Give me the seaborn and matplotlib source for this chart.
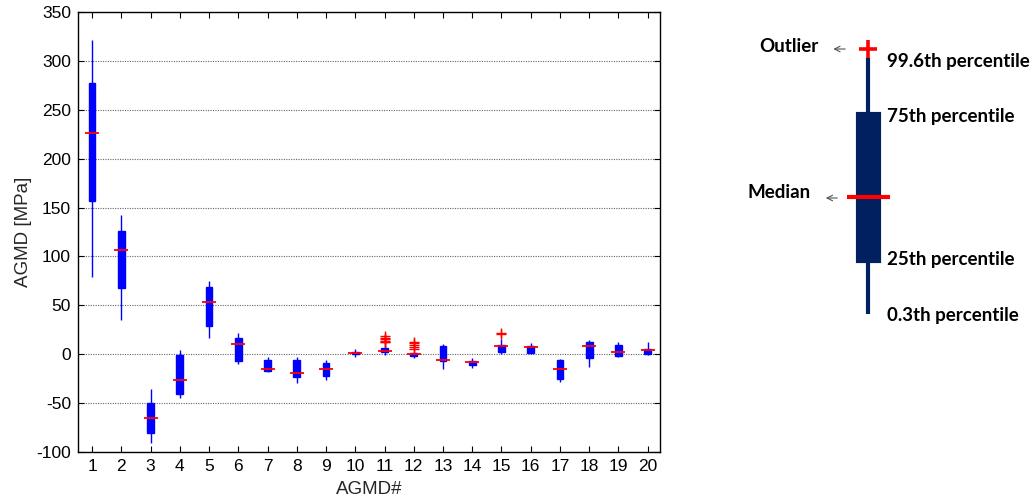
import numpy as np
import pandas as pd
import matplotlib
matplotlib.use("Agg")
import matplotlib.pyplot as plt
import seaborn as sns

# ---- AGMD box statistics (MPa) ----
groups = list(range(1, 21))
whisker_low = [79, 35, -91, -45, 17, -10, -18, -29, -26.5, -3,
               -1, -4.3, -15, -14, 0, 0, -28, -13, -3.3, -0.8]
q1 = [157, 68, -80.5, -41, 29, -7, -17, -23.5, -22, -0.2,
      1.9, -1.9, -6.5, -11, 1.9, 0.8, -25, -4.3, -1.5, 0.2]
median = [226, 107, -65, -26.5, 53, 10.8, -15.2, -19.4, -15.2, 1.2,
          3.8, 0.2, -6, -8.4, 8.4, 7, -15.2, 8.7, 2.6, 4.3]
q3 = [277.6, 126, -50, -1.2, 69, 16.7, -5.7, -5.7, -8.7, 2.6,
      6, 0.8, 8.7, -7, 9.5, 8.7, -6, 12, 9.5, 5.3]
whisker_high = [321, 142.5, -36, 4.3, 74.6, 22, -2.6, -2.6, -6, 5.3,
                9, 2, 10, -4.3, 16, 11, -5, 14.6, 12, 12.9]
outlier_groups = [11, 11, 11, 11, 11, 11, 12, 12, 12, 12, 12, 15, 15]
outlier_values = [19, 17, 15.5, 14, 13, 12, 13, 11, 9, 7, 5.5, 22, 20.5]

y_ticks = [-100, -50, 0, 50, 100, 150, 200, 250, 300, 350]

# Legend schematic: whisker ends, quartiles, median, outlier (drawing units)
legend_stats = [314, 260.7, 197.3, 114, 58.3]
legend_outlier = [49.3]
legend_labels = ["0.3th percentile", "25th percentile", "75th percentile", "99.6th percentile"]

# five-number rows per group so the boxplot reproduces the quartiles exactly
rows = []
for g, lo, a, m, b, hi in zip(groups, whisker_low, q1, median, q3, whisker_high):
    for v in (lo, a, m, b, hi):
        rows.append({"AGMD": g, "value": v})
df = pd.DataFrame(rows)
df_med = pd.DataFrame({"AGMD": groups, "value": median})
df_out = pd.DataFrame({"AGMD": outlier_groups, "value": outlier_values})

sns.set_style("white")
plt.rcParams["font.family"] = ["Liberation Sans", "DejaVu Sans"]
plt.rcParams["axes.unicode_minus"] = False

fig = plt.figure(figsize=(10.35, 5.03), dpi=100)
ax = fig.add_axes([78 / 1035, 51 / 503, 582 / 1035, 440 / 503])

sns.boxplot(data=df, x="AGMD", y="value", native_scale=True, whis=(0, 100),
            width=0.23, color="blue", saturation=1, linecolor="blue",
            linewidth=1, showcaps=False, showfliers=False,
            medianprops=dict(visible=False), ax=ax)
sns.scatterplot(data=df_med, x="AGMD", y="value", marker="_", s=110,
                color="red", linewidth=1.3, zorder=5, ax=ax)
sns.scatterplot(data=df_out, x="AGMD", y="value", marker="+", s=60,
                color="red", linewidth=1, zorder=5, ax=ax)

ax.set_xlim(0.52, 20.42)
ax.set_ylim(-100, 350)
ax.set_xticks(groups)
ax.set_yticks(y_ticks)
ax.yaxis.grid(True, linestyle=(0, (1, 1.2)), color="#666666", linewidth=0.8)
ax.xaxis.grid(False)
ax.set_axisbelow(True)
for s in ax.spines.values():
    s.set_visible(True)
    s.set_color("black")
    s.set_linewidth(1)
ax.tick_params(axis="both", direction="in", length=4, width=0.8,
               labelsize=12.5, top=True, right=True, bottom=True, left=True,
               colors="black", pad=5)
ax.set_xlabel("AGMD#", fontsize=13.5, labelpad=5)
ax.set_ylabel("AGMD [MPa]", fontsize=13.5, labelpad=3)

# ---- legend schematic ----
lax = fig.add_axes([700 / 1035, 0, 335 / 1035, 1])
df_leg = pd.DataFrame({"x": [168] * len(legend_stats), "value": legend_stats})
sns.boxplot(data=df_leg, x="x", y="value", native_scale=True, whis=(0, 100),
            width=21, color="#002060", saturation=1, linecolor="#002060",
            linewidth=3, showcaps=False, showfliers=False,
            medianprops=dict(visible=False), ax=lax)
lax.plot([146.7, 190], [legend_stats[2]] * 2, color="red", linewidth=3,
         solid_capstyle="butt", zorder=5)
lax.scatter([168], legend_outlier, marker="+", s=150, color="red",
            linewidths=2.6, zorder=5)
lax.set_xlim(0, 335)
lax.set_ylim(503, 0)
lax.axis("off")

font_b = dict(family=["Lato", "DejaVu Sans"], fontweight="bold", fontsize=13.5,
              color="black", va="center")
for lbl, y in zip(legend_labels, [315, 259, 116.7, 61.7]):
    lax.text(186.7, y, lbl, ha="left", **font_b)
lax.text(119, 46, "Outlier", ha="right", **font_b)
lax.text(110.7, 193, "Median", ha="right", **font_b)
arrow = dict(arrowstyle="->", color="#555555", lw=0.8)
lax.annotate("", xy=(130.5, 49), xytext=(148, 49), arrowprops=arrow)
lax.annotate("", xy=(123, 198), xytext=(140, 198), arrowprops=arrow)

fig.savefig("out.png", dpi=100)
